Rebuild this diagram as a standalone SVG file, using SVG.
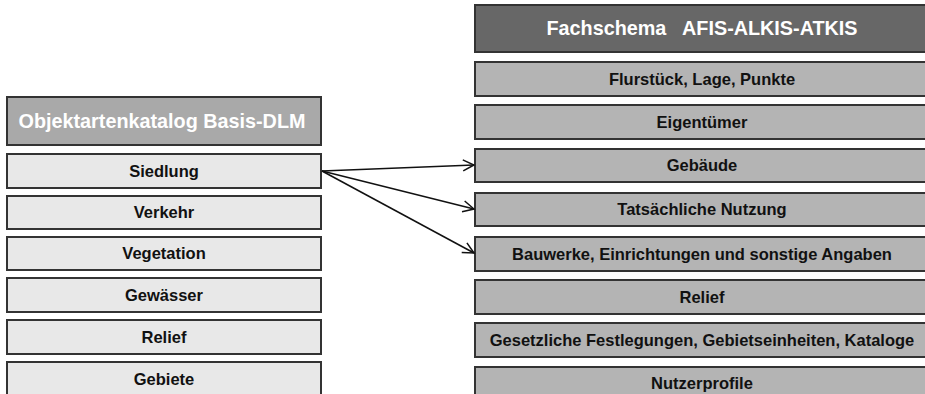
<svg xmlns="http://www.w3.org/2000/svg" width="925" height="394" viewBox="0 0 925 394">
<style>
  .box{stroke:#333333;stroke-width:2}
  .lh{fill:#a9a9a9}
  .li{fill:#e8e8e8}
  .rh{fill:#676767}
  .ri{fill:#b4b4b4}
  text{font-family:"Liberation Sans",Arial,sans-serif;font-weight:bold;text-anchor:middle}
  .t{font-size:16.5px;fill:#111111}
  .h{font-size:19.8px;fill:#ffffff;white-space:pre}
  .con{stroke:#111111;stroke-width:1.5;fill:none}
</style>
<defs>
  <marker id="arr" markerWidth="14" markerHeight="14" refX="12" refY="7" orient="auto" markerUnits="userSpaceOnUse">
    <path d="M1,1.5 L12,7 L1,12.5" fill="none" stroke="#111111" stroke-width="1.5"/>
  </marker>
</defs>
<rect width="925" height="394" fill="#ffffff"/>

<g id="left-header"><rect class="box lh" x="7" y="97" width="314" height="48"/><text class="h" x="162" y="128">Objektartenkatalog Basis-DLM</text></g>
<g id="l-siedlung"><rect class="box li" x="7" y="154" width="314" height="34"/><text class="t" x="164" y="177">Siedlung</text></g>
<g id="l-verkehr"><rect class="box li" x="7" y="196" width="314" height="33"/><text class="t" x="164" y="218">Verkehr</text></g>
<g id="l-vegetation"><rect class="box li" x="7" y="237" width="314" height="33"/><text class="t" x="164" y="259">Vegetation</text></g>
<g id="l-gewaesser"><rect class="box li" x="7" y="278" width="314" height="34"/><text class="t" x="164" y="301">Gewässer</text></g>
<g id="l-relief"><rect class="box li" x="7" y="320" width="314" height="34"/><text class="t" x="164" y="343">Relief</text></g>
<g id="l-gebiete"><rect class="box li" x="7" y="362" width="314" height="40"/><text class="t" x="164" y="385">Gebiete</text></g>

<g id="right-header"><rect class="box rh" x="475" y="5" width="460" height="47"/><text class="h" x="702" y="35">Fachschema   AFIS-ALKIS-ATKIS</text></g>
<g id="r-flurstueck"><rect class="box ri" x="475" y="62" width="460" height="34"/><text class="t" x="702" y="85">Flurstück, Lage, Punkte</text></g>
<g id="r-eigentuemer"><rect class="box ri" x="475" y="105" width="460" height="34"/><text class="t" x="702" y="128">Eigentümer</text></g>
<g id="r-gebaeude"><rect class="box ri" x="475" y="149" width="460" height="33"/><text class="t" x="702" y="171">Gebäude</text></g>
<g id="r-nutzung"><rect class="box ri" x="475" y="193" width="460" height="33"/><text class="t" x="702" y="215">Tatsächliche Nutzung</text></g>
<g id="r-bauwerke"><rect class="box ri" x="475" y="237" width="460" height="34"/><text class="t" x="702" y="260">Bauwerke, Einrichtungen und sonstige Angaben</text></g>
<g id="r-relief"><rect class="box ri" x="475" y="280" width="460" height="34"/><text class="t" x="702" y="303">Relief</text></g>
<g id="r-gesetzlich"><rect class="box ri" x="475" y="323" width="460" height="34"/><text class="t" x="702" y="346">Gesetzliche Festlegungen, Gebietseinheiten, Kataloge</text></g>
<g id="r-nutzerprofile"><rect class="box ri" x="475" y="367" width="460" height="40"/><text class="t" x="702" y="389">Nutzerprofile</text></g>

<g id="connectors">
  <line class="con" x1="322" y1="171" x2="474" y2="165" marker-end="url(#arr)"/>
  <line class="con" x1="322" y1="171" x2="474" y2="209" marker-end="url(#arr)"/>
  <line class="con" x1="322" y1="171" x2="474" y2="253" marker-end="url(#arr)"/>
</g>
</svg>
